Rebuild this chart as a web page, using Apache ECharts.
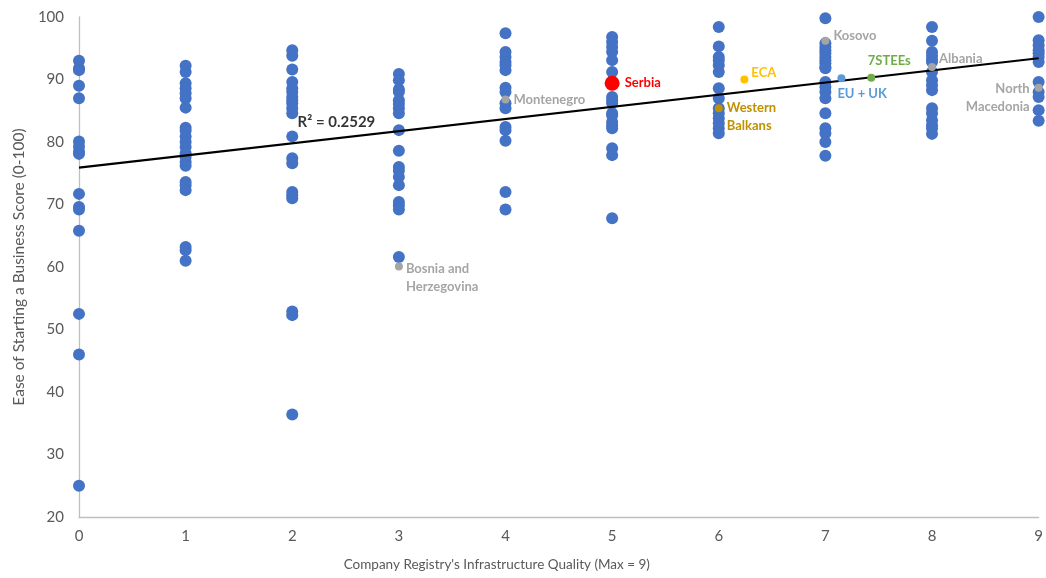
<!DOCTYPE html>
<html><head><meta charset="utf-8">
<script src="https://cdn.jsdelivr.net/npm/echarts@6/dist/echarts.min.js"></script>
<style>html,body{margin:0;padding:0;background:#fff;overflow:hidden}#c{width:1046px;height:578px}</style>
</head><body><div id="c"></div>
<script>
// x categories (registry infrastructure quality) and the scores observed at each
const xTicks = [0,1,2,3,4,5,6,7,8,9];
const col0 = [93.0,91.8,91.5,89.0,87.0,80.1,79.3,78.5,78.1,71.7,69.6,69.2,65.8,52.5,46.0,25.0];
const col1 = [92.2,91.2,89.4,88.6,87.8,87.0,85.5,82.3,81.8,80.9,80.0,79.2,78.2,77.6,76.8,76.2,73.6,73.1,72.3,63.2,62.7,61.0];
const col2 = [94.7,93.8,91.6,89.6,88.6,88.0,87.2,86.7,86.2,85.4,84.6,80.9,77.4,76.6,72.0,71.5,71.0,52.9,52.3,36.4];
const col3 = [90.9,89.9,88.4,88.0,86.7,86.1,85.4,84.6,81.9,78.6,76.0,75.4,74.4,73.1,70.4,69.9,69.2,61.6];
const col4 = [97.4,94.4,93.6,92.8,92.3,91.5,88.7,88.0,86.2,85.4,82.4,81.9,80.2,72.0,69.2];
const col5 = [96.8,96.0,95.2,94.4,93.1,91.2,87.2,86.7,86.2,84.6,84.3,83.2,82.7,82.2,79.0,77.9,67.8];
const col6 = [98.4,95.3,93.6,93.1,92.3,91.2,88.6,87.0,85.4,84.6,83.8,83.0,82.2,81.4];
const col7 = [99.8,95.8,95.2,94.7,94.2,93.6,93.1,92.6,92.0,91.8,89.6,88.8,88.0,87.0,84.6,82.2,81.4,80.0,77.8];
const col8 = [98.4,96.2,94.4,93.8,93.2,92.8,91.2,89.9,89.1,88.3,85.4,84.6,83.5,82.7,82.2,81.3];
const col9 = [100.0,96.3,95.5,94.7,94.2,93.6,92.8,89.6,88.0,87.2,85.1,83.4];
const columns = [col0,col1,col2,col3,col4,col5,col6,col7,col8,col9];

// highlighted economies / aggregates: [name, x, y]
const serbia = ['Serbia', 5, 89.4];
const grayCountries = [
  ['Montenegro', 4, 86.8],
  ['Bosnia and\nHerzegovina', 3, 60.1],
  ['Kosovo', 7, 96.2],
  ['Albania', 8, 92.0],
  ['North\nMacedonia', 9, 88.7]
];
const eca = ['ECA', 6.24, 90.0];
const westernBalkans = ['Western\nBalkans', 6, 85.4];
const euUk = ['EU + UK', 7.15, 90.2];
const steEs = ['7STEEs', 7.43, 90.3];

// linear trend endpoints and R² annotation
const trendX = [0, 9];
const trendY = [75.9, 93.4];
const r2Text = 'R² = 0.2529';
const r2Pos = [2.05, 83.2];

const FONT = 'Lato, "Open Sans", sans-serif';
const blueData = [];
columns.forEach((c, i) => c.forEach(v => blueData.push([xTicks[i], v])));

function lblSeries(item, color, size, label) {
  return {
    type: 'scatter', symbolSize: size, z: 5,
    itemStyle: { color: color, opacity: 1 },
    data: [{ name: item[0], value: [item[1], item[2]] }],
    label: Object.assign({
      show: true, formatter: '{b}', color: color,
      fontFamily: FONT, fontWeight: 'bold', fontSize: 13, lineHeight: 18
    }, label)
  };
}

const grayPos = {
  'Montenegro': { position: 'right', distance: 4, offset: [0, 0] },
  'Bosnia and\nHerzegovina': { position: 'right', distance: 3, offset: [0, 11] },
  'Kosovo': { position: 'right', distance: 4, offset: [0, -5] },
  'Albania': { position: 'right', distance: 3, offset: [0, -8] },
  'North\nMacedonia': { position: 'left', distance: 5, offset: [0, 10], align: 'right' }
};

const series = [
  { type: 'scatter', symbolSize: 12, z: 2, itemStyle: { color: '#4472C4', opacity: 1 }, data: blueData },
  { type: 'line', z: 3, symbol: 'none', silent: true, lineStyle: { color: '#000', width: 2.2 },
    data: trendX.map((x, i) => [x, trendY[i]]) },
  { type: 'scatter', symbolSize: 0, z: 6, data: [{ name: r2Text, value: r2Pos }],
    label: { show: true, formatter: '{b}', position: 'right', distance: 0, color: '#000',
      fontFamily: FONT, fontWeight: 'bold', fontSize: 15 } }
];
grayCountries.forEach(g => series.push(lblSeries(g, '#A5A5A5', 8, grayPos[g[0]])));
series.push(lblSeries(eca, '#FFC000', 8, { position: 'right', distance: 3, offset: [0, -7] }));
series.push(lblSeries(westernBalkans, '#BF9000', 8, { position: 'right', distance: 4, offset: [0, 9] }));
series.push(lblSeries(euUk, '#5B9BD5', 8, { position: 'right', distance: 0, offset: [-8, 16] }));
series.push(lblSeries(steEs, '#70AD47', 8, { position: 'top', distance: 4, offset: [18, 0] }));
series.push(lblSeries(serbia, '#FF0000', 15, { position: 'right', distance: 5 }));

const chart = echarts.init(document.getElementById('c'), null, { renderer: 'canvas', width: 1046, height: 578 });
chart.setOption({
  animation: false,
  backgroundColor: '#fff',
  grid: { left: 79, width: 964, top: 17, height: 500, containLabel: false },
  xAxis: {
    type: 'value', min: 0, max: 9, interval: 1,
    name: "Company Registry's Infrastructure Quality (Max = 9)",
    nameLocation: 'middle', nameGap: 41,
    nameTextStyle: { color: '#595959', fontSize: 13.5, fontFamily: FONT, padding: [0, 124, 0, 0] },
    axisLine: { show: true, lineStyle: { color: '#BFBFBF', width: 1.3 } },
    axisTick: { show: false }, splitLine: { show: false },
    axisLabel: { color: '#595959', fontSize: 15, fontFamily: FONT, margin: 12,
      formatter: v => String(xTicks[v] !== undefined ? xTicks[v] : v) }
  },
  yAxis: {
    type: 'value', min: 20, max: 100, interval: 10,
    name: 'Ease of Starting a Business Score (0-100)',
    nameLocation: 'middle', nameGap: 52,
    nameTextStyle: { color: '#595959', fontSize: 15.5, fontFamily: FONT },
    axisLine: { show: true, lineStyle: { color: '#BFBFBF', width: 1.3 } },
    axisTick: { show: false }, splitLine: { show: false },
    axisLabel: { color: '#595959', fontSize: 15, fontFamily: FONT, margin: 15 }
  },
  series: series
});
</script></body></html>
